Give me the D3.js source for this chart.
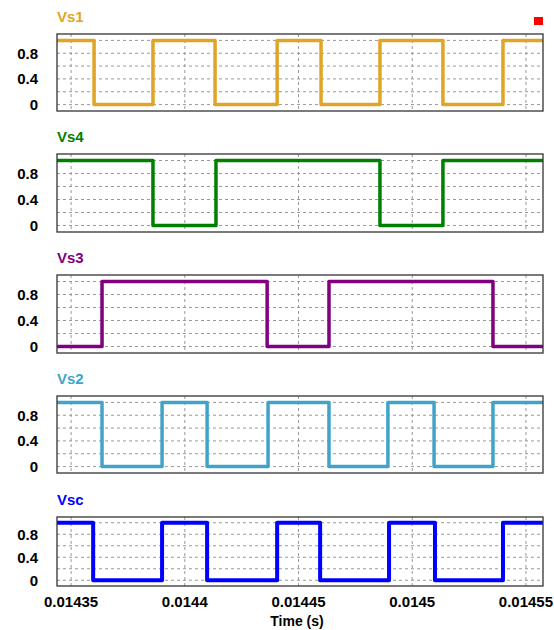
<!DOCTYPE html>
<html>
<head>
<meta charset="utf-8">
<script src="https://cdn.jsdelivr.net/npm/d3@7"></script>
<style>
  body { margin: 0; background: #fff; }
  svg text { font-family: "Liberation Sans", Arial, sans-serif; font-weight: bold; }
</style>
</head>
<body>
<svg id="chart" width="554" height="630"></svg>
<script>
// signal names, start levels and switching instants (s)
const names = ['Vs1', 'Vs4', 'Vs3', 'Vs2', 'Vsc'];
const startLevels = [1, 1, 0, 1, 1];
const vs1Switch = [0.0143601, 0.0143860, 0.0144133, 0.0144406, 0.0144599, 0.0144858, 0.0145135, 0.0145399];
const vs4Switch = [0.0143860, 0.0144137, 0.0144858, 0.0145135];
const vs3Switch = [0.0143636, 0.0144362, 0.0144634, 0.0145355];
const vs2Switch = [0.0143636, 0.0143900, 0.0144098, 0.0144366, 0.0144634, 0.0144893, 0.0145096, 0.0145355];
const vscSwitch = [0.0143597, 0.0143900, 0.0144098, 0.0144406, 0.0144595, 0.0144898, 0.0145100, 0.0145399];
const switches = [vs1Switch, vs4Switch, vs3Switch, vs2Switch, vscSwitch];

const xDomain = [0.0143438, 0.0145575];
const xTicks = [0.01435, 0.0144, 0.01445, 0.0145, 0.01455];
const xTickLabels = ['0.01435', '0.0144', '0.01445', '0.0145', '0.01455'];
const yGrid = [0, 0.2, 0.4, 0.6, 0.8, 1];
const yTicks = [0, 0.4, 0.8];
const yTickLabels = ['0', '0.4', '0.8'];

const colors = ['#e0a526', '#008000', '#800080', '#42a3c9', '#0000ff'];
const panelTops = [34, 154, 275, 396, 517];
const panelHeights = [77, 78, 78, 77, 69];

const svg = d3.select('#chart');
const left = 57, right = 543;

const x = d3.scaleLinear().domain(xDomain).range([left, right]);

names.forEach((name, i) => {
  const top = panelTops[i], h = panelHeights[i];
  const y = d3.scaleLinear().domain([-0.1, 1.1]).range([top + h, top]);
  const g = svg.append('g');

  // grid
  g.selectAll('.hgrid').data(yGrid).enter().append('line')
    .attr('x1', left).attr('x2', right)
    .attr('y1', d => y(d)).attr('y2', d => y(d))
    .attr('stroke', '#999').attr('stroke-width', 1).attr('stroke-dasharray', '3,3');
  g.selectAll('.vgrid').data(xTicks).enter().append('line')
    .attr('x1', d => x(d)).attr('x2', d => x(d))
    .attr('y1', top).attr('y2', top + h)
    .attr('stroke', '#999').attr('stroke-width', 1).attr('stroke-dasharray', '3,3');

  // step waveform
  let level = startLevels[i];
  const pts = [[xDomain[0], level]];
  switches[i].forEach(t => { level = 1 - level; pts.push([t, level]); });
  pts.push([xDomain[1], level]);

  const clipId = 'clip' + i;
  svg.append('clipPath').attr('id', clipId).append('rect')
    .attr('x', left - 2).attr('y', top).attr('width', right - left + 2).attr('height', h);

  g.append('path')
    .datum(pts)
    .attr('clip-path', `url(#${clipId})`)
    .attr('fill', 'none')
    .attr('stroke', colors[i])
    .attr('stroke-width', i === 4 ? 4 : 3.5)
    .attr('stroke-linejoin', 'round')
    .attr('d', d3.line().x(d => x(d[0])).y(d => y(d[1])).curve(d3.curveStepAfter));

  // frame
  g.append('rect')
    .attr('x', left).attr('y', top).attr('width', right - left).attr('height', h)
    .attr('fill', 'none').attr('stroke', '#333').attr('stroke-width', 1.3);

  // y labels
  g.selectAll('.ylab').data(yTicks).enter().append('text')
    .attr('x', left - 19).attr('y', d => y(d))
    .attr('dy', '0.35em')
    .attr('text-anchor', 'end')
    .attr('font-size', 15)
    .attr('fill', '#000')
    .text((d, k) => yTickLabels[k]);

  // title
  g.append('text')
    .attr('x', left).attr('y', top - 12)
    .attr('font-size', 15)
    .attr('fill', colors[i])
    .text(name);
});

// x axis labels
svg.selectAll('.xlab').data(xTicks).enter().append('text')
  .attr('x', d => x(d)).attr('y', 607)
  .attr('text-anchor', 'middle')
  .attr('font-size', 15)
  .attr('fill', '#000')
  .text((d, k) => xTickLabels[k]);

svg.append('text')
  .attr('x', 297).attr('y', 626)
  .attr('text-anchor', 'middle')
  .attr('font-size', 14)
  .attr('fill', '#000')
  .text('Time (s)');

// red marker
svg.append('rect')
  .attr('x', 534).attr('y', 17).attr('width', 9).attr('height', 8)
  .attr('fill', '#ff0000');
</script>
</body>
</html>
